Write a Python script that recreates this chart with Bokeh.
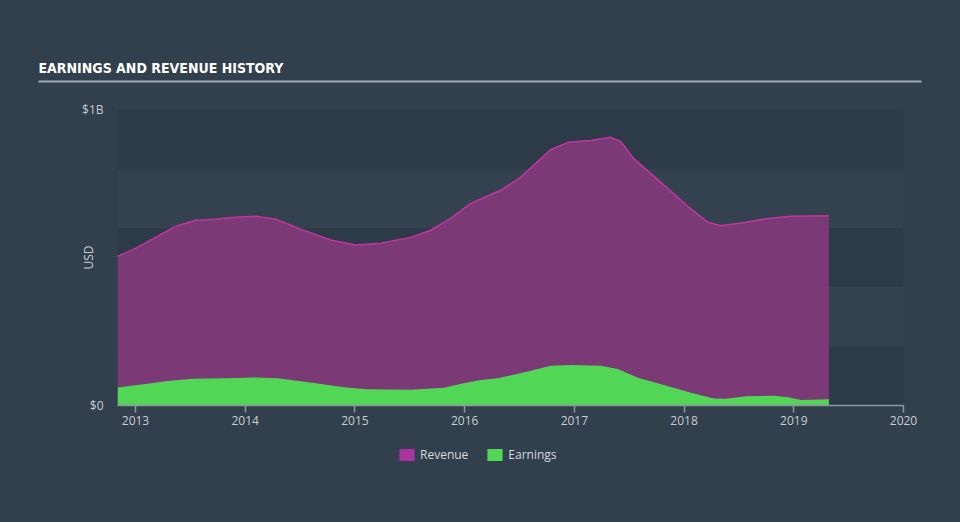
from bokeh.plotting import figure
from bokeh.layouts import column
from bokeh.models import (Range1d, FixedTicker, Label, BoxAnnotation,
                          Legend, LegendItem, ColumnDataSource)
from bokeh.embed import file_html
from bokeh.resources import INLINE

# ---- data (USD billions, fractional years) ----
revenue_years = [2012.836, 2013.0, 2013.182, 2013.365, 2013.547, 2013.730, 2013.912,
                 2014.094, 2014.277, 2014.505, 2014.779, 2015.007, 2015.235, 2015.508,
                 2015.691, 2015.873, 2016.055, 2016.329, 2016.511, 2016.648, 2016.785,
                 2016.940, 2017.150, 2017.332, 2017.423, 2017.542, 2017.788, 2018.034,
                 2018.217, 2018.336, 2018.564, 2018.765, 2018.974, 2019.320]
revenue = [0.504, 0.531, 0.568, 0.605, 0.626, 0.629, 0.636,
           0.639, 0.629, 0.596, 0.559, 0.542, 0.548, 0.568,
           0.592, 0.632, 0.683, 0.727, 0.771, 0.818, 0.865,
           0.889, 0.895, 0.906, 0.892, 0.834, 0.754, 0.673,
           0.619, 0.607, 0.619, 0.632, 0.639, 0.641]

earnings_years = [2012.836, 2013.073, 2013.292, 2013.529, 2013.839, 2014.076, 2014.295,
                  2014.596, 2014.897, 2015.116, 2015.508, 2015.809, 2015.992, 2016.147,
                  2016.302, 2016.603, 2016.785, 2016.968, 2017.241, 2017.396, 2017.579,
                  2017.816, 2018.062, 2018.272, 2018.381, 2018.564, 2018.819, 2018.947,
                  2019.065, 2019.320]
earnings = [0.061, 0.072, 0.083, 0.090, 0.092, 0.095, 0.092,
            0.078, 0.062, 0.055, 0.053, 0.060, 0.075, 0.086,
            0.092, 0.117, 0.134, 0.137, 0.134, 0.123, 0.094,
            0.069, 0.043, 0.024, 0.023, 0.031, 0.033, 0.028,
            0.019, 0.021]

x_ticks = [2013, 2014, 2015, 2016, 2017, 2018, 2019, 2020]
y_ticks = [0, 1]
y_tick_labels = {0: "$0", 1: "$1B"}
band_edges = [(0.0, 0.2), (0.4, 0.6), (0.8, 1.0)]
series_names = ["Revenue", "Earnings"]
title_text = "EARNINGS AND REVENUE HISTORY"

# ---- style ----
BG = "#323f4d"
FRAME_BG = "#34424f"
BAND = "#2d3a48"
REV_FILL = "#7b3976"
REV_LINE = "#c0369f"
REV_SWATCH = "#a8359e"
EARN = "#52d656"
TXT = "#c8cdd3"
FONT = "Open Sans"
PAGE_STYLE = {"background-color": BG}

W = 960
H_HEAD, H_MAIN = 95, 345
H_FOOT = 522 - H_HEAD - H_MAIN
X0, X1 = 2012.836, 2020.0


def blank(height):
    f = figure(width=W, height=height, output_backend="svg", toolbar_location=None,
               x_range=Range1d(0, W), y_range=Range1d(height, 0),
               x_axis_location=None, y_axis_location=None,
               min_border=0, min_border_left=0, min_border_right=0,
               min_border_top=0, min_border_bottom=0,
               frame_align=False, styles=PAGE_STYLE)
    f.background_fill_color = BG
    f.border_fill_color = BG
    f.outline_line_color = None
    f.grid.visible = False
    return f


# ---- header: title + rule ----
head = blank(H_HEAD)
head.add_layout(Label(x=38, y=67, text=title_text, text_color="#ffffff",
                      text_font="'DejaVu Sans Condensed', sans-serif",
                      text_font_style="bold", text_font_size="14px",
                      text_align="left", text_baseline="middle"))
head.segment(x0=[38], y0=[81], x1=[921], y1=[81], line_color="#a3abb6", line_width=2)

# ---- main chart ----
p = figure(width=W, height=H_MAIN, output_backend="svg", toolbar_location=None,
           x_range=Range1d(X0, X1), y_range=Range1d(0, 1),
           min_border_left=117, min_border_right=57, min_border_top=14, min_border_bottom=35,
           frame_align=False, styles=PAGE_STYLE)
p.background_fill_color = FRAME_BG
p.border_fill_color = BG
p.outline_line_color = None
p.grid.visible = False

for lo, hi in band_edges:
    p.add_layout(BoxAnnotation(bottom=lo, top=hi, fill_color=BAND, fill_alpha=1.0,
                               line_color=None, level="underlay"))

rev_src = ColumnDataSource(dict(x=revenue_years, y=revenue))
earn_src = ColumnDataSource(dict(x=earnings_years, y=earnings))
p.varea(x="x", y1=0, y2="y", source=rev_src, fill_color=REV_FILL, fill_alpha=1.0)
p.line(x="x", y="y", source=rev_src, line_color=REV_LINE, line_width=1.5)
p.varea(x="x", y1=0, y2="y", source=earn_src, fill_color=EARN, fill_alpha=1.0)

xa = p.xaxis[0]
xa.ticker = FixedTicker(ticks=x_ticks)
xa.formatter.use_scientific = False
xa.axis_line_color = "#8f99a6"
xa.axis_line_width = 1.5
xa.major_tick_line_color = "#8f99a6"
xa.major_tick_line_width = 1.5
xa.major_tick_out = 7
xa.major_tick_in = 0
xa.minor_tick_line_color = None
xa.major_label_text_color = TXT
xa.major_label_text_font = FONT
xa.major_label_text_font_size = "12px"
xa.major_label_standoff = 3

ya = p.yaxis[0]
ya.ticker = FixedTicker(ticks=y_ticks)
ya.major_label_overrides = y_tick_labels
ya.axis_line_color = None
ya.major_tick_line_color = None
ya.major_tick_out = 0
ya.major_tick_in = 0
ya.minor_tick_line_color = None
ya.major_label_text_color = TXT
ya.major_label_text_font = FONT
ya.major_label_text_font_size = "12px"
ya.major_label_standoff = 14
ya.axis_label = "USD"
ya.axis_label_text_color = TXT
ya.axis_label_text_font = FONT
ya.axis_label_text_font_size = "12px"
ya.axis_label_text_font_style = "normal"
ya.axis_label_standoff = -18

# ---- footer: legend (swatches are zero-height areas along the series) ----
foot = blank(H_FOOT)
r_rev = foot.varea(x=revenue_years, y1=revenue, y2=revenue, fill_color=REV_SWATCH)
r_earn = foot.varea(x=earnings_years, y1=earnings, y2=earnings, fill_color=EARN)
legend = Legend(items=[LegendItem(label=series_names[0], renderers=[r_rev]),
                       LegendItem(label=series_names[1], renderers=[r_earn])],
                orientation="horizontal", location=(397, 522 - 463),
                glyph_width=19, glyph_height=15, label_height=15,
                label_standoff=4, spacing=17, padding=0, margin=0,
                border_line_color=None, background_fill_alpha=0,
                label_text_color="#d5d9de", label_text_font=FONT,
                label_text_font_size="12px")
foot.add_layout(legend)

layout = column(head, p, foot, spacing=0, styles=PAGE_STYLE)
open("out.html", "w").write(file_html(layout, INLINE))
